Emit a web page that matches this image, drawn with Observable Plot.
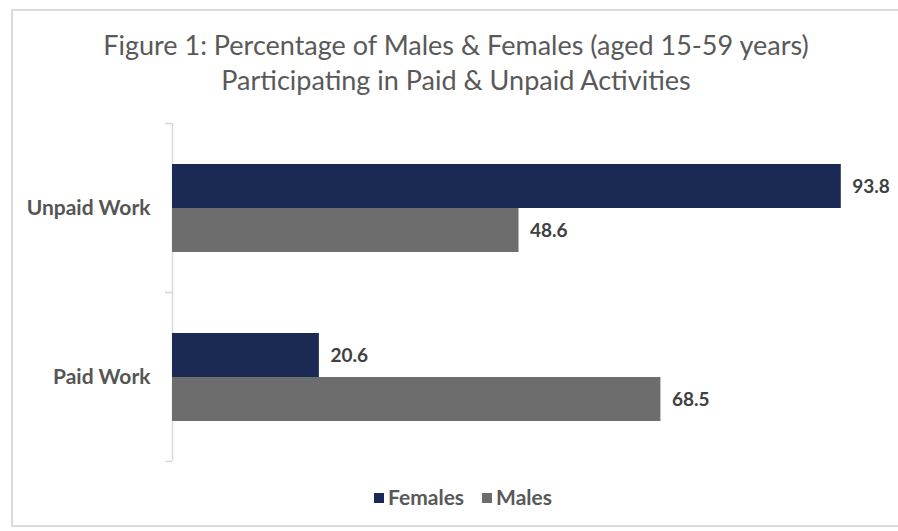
<!DOCTYPE html>
<html><head><meta charset="utf-8">
<script src="https://cdn.jsdelivr.net/npm/d3@7"></script>
<script src="https://cdn.jsdelivr.net/npm/@observablehq/plot@0.6"></script>
<style>
body{margin:0;background:#fff;font-family:Lato,"Open Sans",sans-serif;}
#page{position:relative;width:898px;height:531px;overflow:hidden;}
#box{position:absolute;left:11px;top:9px;width:900px;height:518px;border:2px solid #dadada;box-sizing:border-box;}
#title{position:absolute;left:12px;top:27px;width:888px;text-align:center;color:#595959;font-size:27px;line-height:35px;}
#chart{position:absolute;left:0;top:110px;}
#legend{position:absolute;left:12px;top:484px;width:902px;text-align:center;color:#595959;font-weight:bold;font-size:21px;}
#legend span.sw{display:inline-block;width:10px;height:10px;margin-right:4px;vertical-align:2px;}
#legend span.it{margin:0 9px;}
</style></head>
<body>
<div id="page">
<div id="box"></div>
<div id="title">Figure 1: Percentage of Males &amp; Females (aged 15-59 years)<br>Participating in Paid &amp; Unpaid Activities</div>
<div id="chart"></div>
<div id="legend"></div>
</div>
<script>
const categories = ["Unpaid Work", "Paid Work"];
const series = ["Females", "Males"];
const females = [93.8, 20.6];
const males = [48.6, 68.5];
const colors = ["#1b2a55", "#6d6d6d"];

const data = [];
categories.forEach((c, i) => {
  data.push({category: c, sex: "Females", value: females[i]});
  data.push({category: c, sex: "Males", value: males[i]});
});

const plot = Plot.plot({
  width: 898,
  height: 360,
  marginTop: 13,
  marginBottom: 9,
  marginLeft: 172,
  marginRight: 13,
  style: {fontFamily: "Lato, 'Open Sans', sans-serif", color: "#595959", background: "transparent"},
  x: {domain: [0, 100], axis: null},
  y: {domain: series, paddingInner: 0, paddingOuter: 0.92, axis: null},
  fy: {domain: categories, padding: 0, axis: null},
  color: {domain: series, range: colors},
  marks: [
    Plot.ruleX([0], {stroke: "#d9d9d9", strokeWidth: 1.5}),
    Plot.axisFy({anchor: "left", label: null, tickSize: 0, tickPadding: 22, fontSize: 21, fontWeight: "bold", fill: "#555555"}),
    Plot.axisFy({anchor: "left", label: null, text: null, tickSize: 7, dy: -84.5, stroke: "#d9d9d9", strokeWidth: 1.5}),
    Plot.axisFy({anchor: "left", label: null, text: null, tickSize: 7, dy: 84.5, stroke: "#d9d9d9", strokeWidth: 1.5}),
    Plot.barX(data, {fy: "category", y: "sex", x: "value", fill: "sex"}),
    Plot.text(data, {fy: "category", y: "sex", x: "value", text: d => d.value.toFixed(1),
      textAnchor: "start", dx: 11, fontSize: 19, fontWeight: "bold", fill: "#404040"})
  ]
});
document.getElementById("chart").append(plot);

const legend = document.getElementById("legend");
series.forEach((s, i) => {
  const it = document.createElement("span");
  it.className = "it";
  const sw = document.createElement("span");
  sw.className = "sw";
  sw.style.background = colors[i];
  it.append(sw, document.createTextNode(s));
  legend.append(it);
});
</script>
</body></html>
